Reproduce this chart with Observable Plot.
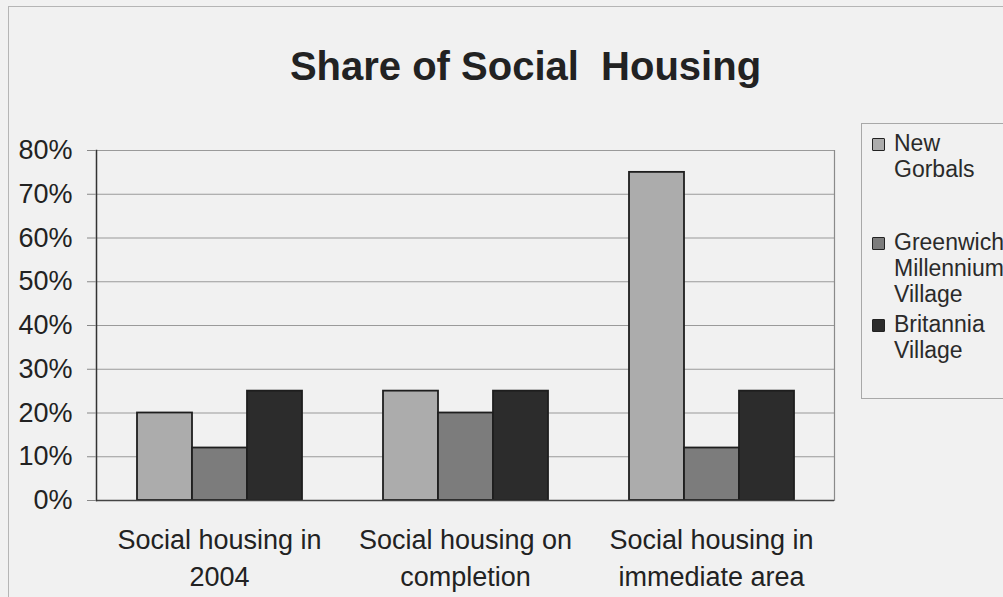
<!DOCTYPE html>
<html>
<head>
<meta charset="utf-8">
<script src="https://cdn.jsdelivr.net/npm/d3@7"></script>
<script src="https://cdn.jsdelivr.net/npm/@observablehq/plot@0.6"></script>
<style>
  html, body { margin: 0; padding: 0; width: 1003px; height: 597px; overflow: hidden; background: #f1f1f1; font-family: "Liberation Sans", Arial, sans-serif; }
  #wrap { position: relative; width: 1003px; height: 597px; overflow: hidden; }
  #outer { position: absolute; left: 8px; top: 6px; width: 1200px; height: 800px; border: 1px solid #b5b5b5; box-sizing: border-box; }
  #title { position: absolute; left: 0; top: 47px; width: 1051px; text-align: center; font-size: 40px; line-height: 39px; font-weight: bold; color: #222; white-space: pre; }
  #chart { position: absolute; left: 0; top: 0; }
  #legend { position: absolute; left: 861px; top: 123px; width: 200px; height: 276px; border: 1px solid #a8a8a8; box-sizing: border-box; }
  .entry { position: absolute; left: 872px; font-size: 23px; line-height: 26px; color: #2a2a2a; }
  .sw { position: absolute; left: 0; top: 8px; width: 11px; height: 11px; border: 1.5px solid #222; border-radius: 1px; }
  .lbl { position: absolute; left: 22px; top: 0; white-space: pre; }
</style>
</head>
<body>
<div id="wrap">
  <div id="outer"></div>
  <div id="chart"></div>
  <div id="title">Share of Social  Housing</div>
  <div id="legend"></div>
</div>
<script>
// ---- data ----
const categories = ["Social housing in 2004", "Social housing on completion", "Social housing in immediate area"];
const categoryLabels = ["Social housing in\n2004", "Social housing on\ncompletion", "Social housing in\nimmediate area"];
const seriesNames = ["New Gorbals", "Greenwich Millennium Village", "Britannia Village"];
const legendLabels = ["New\nGorbals", "Greenwich\nMillennium\nVillage", "Britannia\nVillage"];
const newGorbals = [20, 25, 75];
const greenwich = [12, 20, 12];
const britannia = [25, 25, 25];
const yTicks = [0, 10, 20, 30, 40, 50, 60, 70, 80];
const colors = ["#acacac", "#7c7c7c", "#2c2c2c"];

const seriesValues = [newGorbals, greenwich, britannia];
const rows = [];
categories.forEach((c, i) => {
  seriesNames.forEach((s, j) => rows.push({category: c, series: s, value: seriesValues[j][i]}));
});
const labelOf = new Map(categories.map((c, i) => [c, categoryLabels[i]]));

const chart = Plot.plot({
  width: 1003,
  height: 597,
  marginLeft: 96,
  marginRight: 169,
  marginTop: 150,
  marginBottom: 97,
  style: {background: "transparent", fontFamily: "Liberation Sans, Arial, sans-serif", color: "#222"},
  fx: {domain: categories, padding: 0, label: null},
  x: {domain: seriesNames, paddingInner: 0, paddingOuter: 0.73, axis: null},
  y: {domain: [0, 80], label: null},
  color: {domain: seriesNames, range: colors},
  marks: [
    Plot.ruleY(yTicks.filter(d => d > 0), {stroke: "#9a9a9a", strokeWidth: 1.2}),
    Plot.frame({anchor: "right", facetAnchor: "right", stroke: "#8a8a8a", strokeWidth: 1.2}),
    Plot.barY(rows, {fx: "category", x: "series", y: "value", fill: "series", stroke: "#1e1e1e", strokeWidth: 1.8, inset: 0}),
    Plot.ruleY([0], {stroke: "#444", strokeWidth: 1.5}),
    Plot.frame({anchor: "left", facetAnchor: "left", stroke: "#333", strokeWidth: 1.5}),
    Plot.axisY({ticks: yTicks, tickFormat: d => d + "%", tickSize: 9, tickPadding: 15, fontSize: 27, label: null, stroke: "#888"}),
    Plot.axisFx({anchor: "bottom", tickFormat: d => labelOf.get(d), tickSize: 0, tickPadding: 22, fontSize: 27, lineHeight: 1.38, label: null})
  ]
});
document.getElementById("chart").appendChild(chart);

// ---- legend ----
const tops = [130, 229, 311];
const wrap = document.getElementById("wrap");
seriesNames.forEach((s, i) => {
  const e = document.createElement("div");
  e.className = "entry";
  e.style.top = tops[i] + "px";
  const sw = document.createElement("div");
  sw.className = "sw";
  sw.style.background = colors[i];
  const l = document.createElement("div");
  l.className = "lbl";
  l.textContent = legendLabels[i];
  e.appendChild(sw); e.appendChild(l);
  wrap.appendChild(e);
});
</script>
</body>
</html>
